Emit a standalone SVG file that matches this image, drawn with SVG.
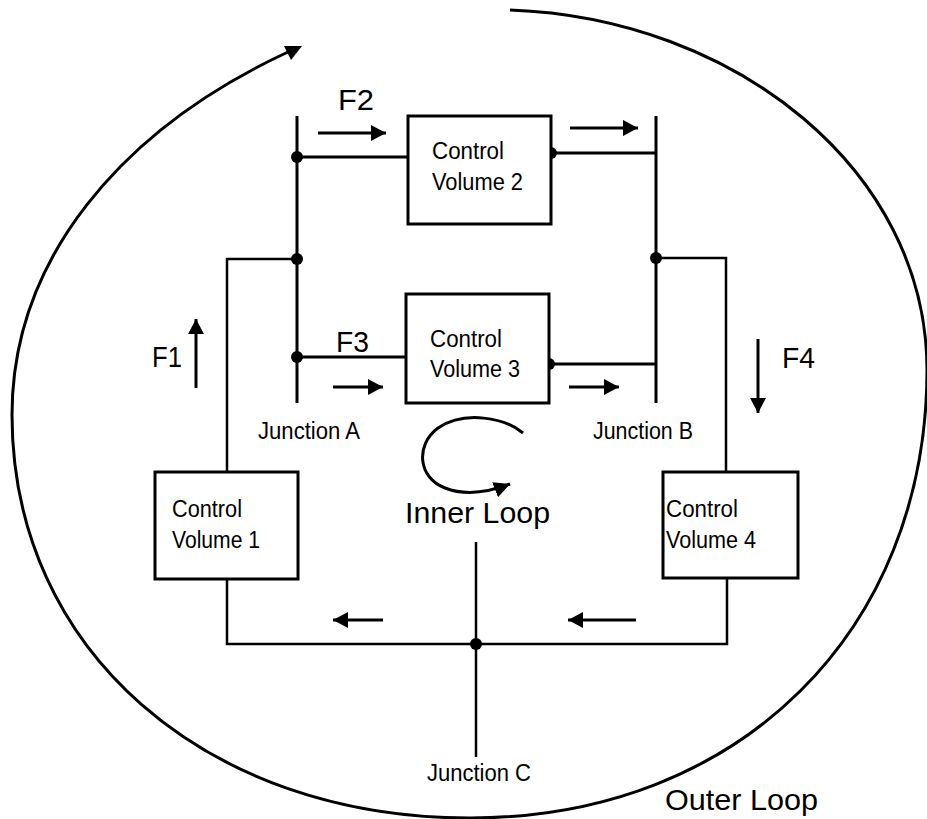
<svg xmlns="http://www.w3.org/2000/svg" width="927" height="819" viewBox="0 0 927 819">
<style>
  .ln{stroke:#000;stroke-width:3;fill:none;stroke-linecap:butt}
  .thin{stroke:#000;stroke-width:2.5;fill:none}
  .box{fill:#fff;stroke:#000;stroke-width:3}
  .dot{fill:#000}
  .arr{stroke:#000;stroke-width:3;fill:none;marker-end:url(#ah)}
  text{font-family:"Liberation Sans",Arial,sans-serif;fill:#000}
  .lbl{font-size:23.5px}
  .jn{font-size:23px}
  .f{font-size:29px}
  .big{font-size:29px}
</style>
<defs>
  <marker id="ah" markerUnits="userSpaceOnUse" markerWidth="16" markerHeight="16" refX="15" refY="8" orient="auto">
    <path d="M0,0 L15,8 L0,16 Z" fill="#000"/>
  </marker>
  <marker id="ahs" markerUnits="userSpaceOnUse" markerWidth="18" markerHeight="16" refX="16" refY="8" orient="auto">
    <path d="M0,0 L16,8 L0,16 Z" fill="#000"/>
  </marker>
</defs>
<rect width="927" height="819" fill="#fff"/>

<g id="outer-loop">
  <path class="ln" d="M510,10 C735,18 927,170 927,370 C927,630 740,818 470,818 C205,818 12,650 12,415 C12,260 120,130 288,52"/>
  <path d="M302,46 L291,60 L284,46 Z" fill="#000"/>
  <text class="big" x="665" y="810" textLength="153" lengthAdjust="spacingAndGlyphs">Outer Loop</text>
</g>

<g id="connectors">
  <line class="ln" x1="297" y1="116" x2="297" y2="403"/>
  <line class="ln" x1="656" y1="116" x2="656" y2="403"/>
  <line class="ln" x1="297" y1="157" x2="408" y2="157"/>
  <line class="ln" x1="551" y1="153" x2="656" y2="153"/>
  <line class="ln" x1="297" y1="357" x2="406" y2="357"/>
  <line class="ln" x1="549" y1="364" x2="656" y2="364"/>
  <polyline class="thin" points="297,259 227,259 227,472"/>
  <polyline class="thin" points="656,258 726,258 726,472"/>
  <polyline class="thin" points="227,579 227,644 727,644 727,578"/>
  <line class="thin" x1="476" y1="542" x2="476" y2="757"/>
  <circle class="dot" cx="297" cy="157" r="6"/>
  <circle class="dot" cx="297" cy="259" r="6"/>
  <circle class="dot" cx="297" cy="357" r="6"/>
  <circle class="dot" cx="551" cy="153" r="6"/>
  <circle class="dot" cx="656" cy="258" r="6"/>
  <circle class="dot" cx="549" cy="364" r="6"/>
  <circle class="dot" cx="476" cy="644" r="6"/>
  <line class="arr" x1="318" y1="133" x2="386" y2="133"/>
  <line class="arr" x1="570" y1="128" x2="638" y2="128"/>
  <line class="arr" x1="333" y1="387" x2="383" y2="387"/>
  <line class="arr" x1="569" y1="387" x2="619" y2="387"/>
  <line class="arr" x1="196" y1="388" x2="196" y2="319"/>
  <line class="arr" x1="758" y1="339" x2="758" y2="413"/>
  <line class="arr" x1="383" y1="620" x2="333" y2="620"/>
  <line class="arr" x1="636" y1="620" x2="568" y2="620"/>
</g>

<g id="flow-labels">
  <text class="f" x="338" y="110" textLength="36" lengthAdjust="spacingAndGlyphs">F2</text>
  <text class="f" x="152" y="367" textLength="30" lengthAdjust="spacingAndGlyphs">F1</text>
  <text class="f" x="336" y="352" textLength="33" lengthAdjust="spacingAndGlyphs">F3</text>
  <text class="f" x="782" y="368" textLength="33" lengthAdjust="spacingAndGlyphs">F4</text>
</g>

<g id="cv1">
  <rect class="box" x="155" y="472" width="143" height="107"/>
  <text class="lbl" x="172" y="517" textLength="70" lengthAdjust="spacingAndGlyphs">Control</text>
  <text class="lbl" x="172" y="548" textLength="88" lengthAdjust="spacingAndGlyphs">Volume 1</text>
</g>
<g id="cv2">
  <rect class="box" x="408" y="116" width="143" height="108"/>
  <text class="lbl" x="432" y="159" textLength="72" lengthAdjust="spacingAndGlyphs">Control</text>
  <text class="lbl" x="432" y="190" textLength="91" lengthAdjust="spacingAndGlyphs">Volume 2</text>
</g>
<g id="cv3">
  <rect class="box" x="406" y="294" width="143" height="109"/>
  <text class="lbl" x="430" y="347" textLength="72" lengthAdjust="spacingAndGlyphs">Control</text>
  <text class="lbl" x="430" y="377" textLength="90" lengthAdjust="spacingAndGlyphs">Volume 3</text>
</g>
<g id="cv4">
  <rect class="box" x="663" y="472" width="135" height="106"/>
  <text class="lbl" x="666" y="517" textLength="72" lengthAdjust="spacingAndGlyphs">Control</text>
  <text class="lbl" x="666" y="548" textLength="90" lengthAdjust="spacingAndGlyphs">Volume 4</text>
</g>

<g id="junction-a"><text class="jn" x="258" y="439" textLength="102" lengthAdjust="spacingAndGlyphs">Junction A</text></g>
<g id="junction-b"><text class="jn" x="593" y="439" textLength="100" lengthAdjust="spacingAndGlyphs">Junction B</text></g>
<g id="junction-c"><text class="jn" x="427" y="781" textLength="104" lengthAdjust="spacingAndGlyphs">Junction C</text></g>

<g id="inner-loop">
  <path d="M523,433 C505,418 465,410 438,428 C415,445 418,478 445,488 C468,497 492,491 510,484" stroke="#000" stroke-width="3" fill="none" marker-end="url(#ahs)"/>
  <text class="big" x="405" y="523" textLength="145" lengthAdjust="spacingAndGlyphs">Inner Loop</text>
</g>
</svg>
